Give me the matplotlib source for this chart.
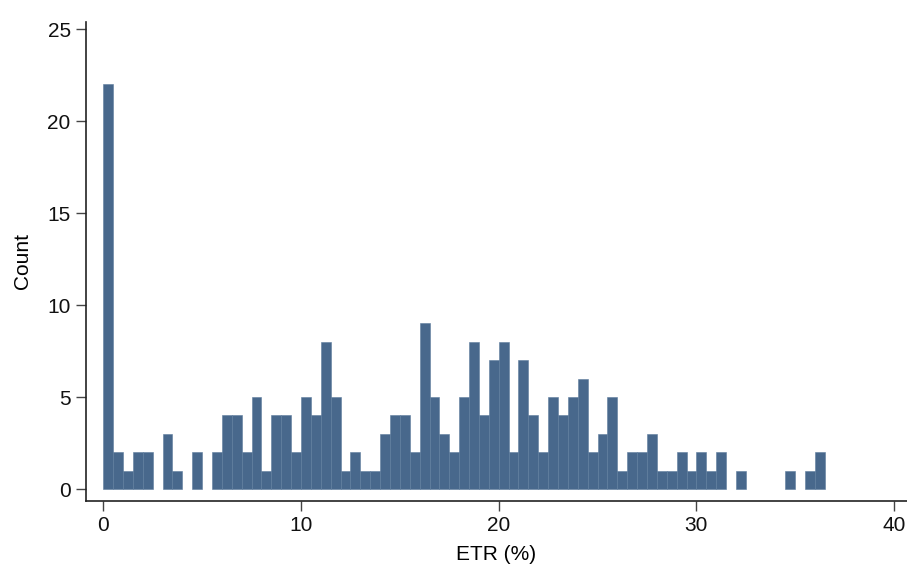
import numpy as np
import matplotlib.pyplot as plt

plt.rcParams['font.family'] = ['Liberation Sans', 'DejaVu Sans']

# histogram of ETR, bins of width 0.5 starting at 0
bin_width = 0.5
counts = [22, 2, 1, 2, 2, 0, 3, 1, 0, 2,
          0, 2, 4, 4, 2, 5, 1, 4, 4, 2,
          5, 4, 8, 5, 1, 2, 1, 1, 3, 4,
          4, 2, 9, 5, 3, 2, 5, 8, 4, 7,
          8, 2, 7, 4, 2, 5, 4, 5, 6, 2,
          3, 5, 1, 2, 2, 3, 1, 1, 2, 1,
          2, 1, 2, 0, 1, 0, 0, 0, 0, 1,
          0, 1, 2]
xticks = [0, 10, 20, 30, 40]
yticks = [0, 5, 10, 15, 20, 25]

counts = np.array(counts)
left_edges = np.arange(len(counts)) * bin_width
# empty bins get no bar at all (otherwise the edge shows as a line on zero)
filled = counts > 0

fig = plt.figure(figsize=(9.07, 5.65), dpi=100)
ax = fig.add_axes([0.0948, 0.1133, 0.9052, 0.8483])

ax.bar(left_edges[filled], counts[filled], width=bin_width, align='edge',
       color='#48688c', edgecolor='#5d7c9d', linewidth=0.4)

ax.set_xlim(-0.875, 40.65)
ax.set_ylim(-0.65, 25.4)
ax.set_xticks(xticks)
ax.set_yticks(yticks)

for side in ['top', 'right']:
    ax.spines[side].set_visible(False)
for side in ['left', 'bottom']:
    ax.spines[side].set_color('#222222')
    ax.spines[side].set_linewidth(1.2)

ax.tick_params(axis='both', labelsize=15, length=7, width=1.0,
               color='#444444', labelcolor='#111111', pad=4)

ax.set_xlabel('ETR (%)', fontsize=15, labelpad=7)
ax.set_ylabel('Count', fontsize=15, labelpad=11)

fig.savefig('out.png', dpi=100, facecolor='white')
